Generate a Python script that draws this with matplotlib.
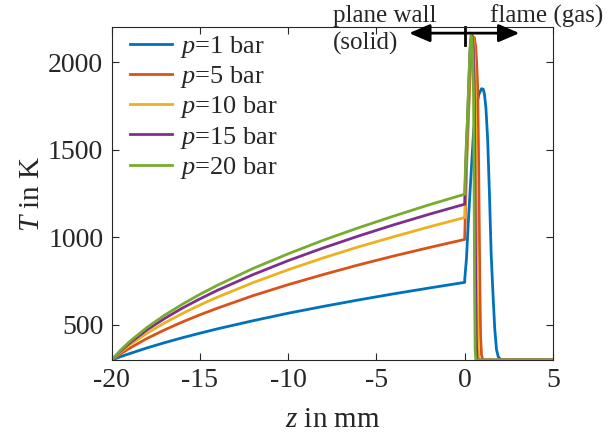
import numpy as np
import matplotlib.pyplot as plt

plt.rcParams['font.family'] = 'Liberation Serif'
plt.rcParams['mathtext.fontset'] = 'custom'
plt.rcParams['mathtext.rm'] = 'Liberation Serif'
plt.rcParams['mathtext.it'] = 'Liberation Serif:italic'
plt.rcParams['axes.unicode_minus'] = False

# =========================
# Data
# =========================
pressures = [1, 5, 10, 15, 20]
colors = ['#0072BD', '#D95319', '#EDB120', '#7E2F8E', '#77AC30']

# wall (solid) side, z in mm
z_wall = [-20, -19.5, -19, -18, -17, -16, -15, -14, -12, -10, -8, -6, -4, -2, 0]
T_wall_p1 = [300, 319, 336, 369, 399, 427, 453, 478, 524, 567, 606, 643, 678, 711, 743]
T_wall_p5 = [300, 335, 366, 423, 472, 517, 558, 596, 667, 730, 788, 843, 894, 942, 988]
T_wall_p10 = [300, 345, 384, 453, 512, 565, 614, 659, 741, 815, 883, 946, 1004, 1060, 1113]
T_wall_p15 = [300, 351, 395, 472, 537, 596, 649, 698, 787, 867, 940, 1008, 1072, 1132, 1189]
T_wall_p20 = [300, 356, 404, 486, 556, 618, 675, 727, 822, 906, 984, 1055, 1122, 1186, 1246]

# flame (gas) side
z_gas_p1 = [0, 0.1, 0.2, 0.35, 0.5, 0.65, 0.8, 0.95, 1.05, 1.12, 1.2, 1.3, 1.4, 1.5, 1.6, 1.7, 1.8, 1.9, 2.05, 2.2, 5]
T_gas_p1 = [760, 880, 1080, 1345, 1600, 1740, 1815, 1848, 1845, 1815, 1740, 1560, 1250, 900, 680, 480, 360, 318, 302, 300, 300]
z_gas_p5 = [0, 0.05, 0.1, 0.15, 0.2, 0.25, 0.3, 0.36, 0.45, 0.54, 0.62, 0.68, 0.73, 0.78, 0.82, 0.86, 0.9, 0.95, 1.02, 5]
T_gas_p5 = [1000, 1200, 1380, 1530, 1660, 1790, 1920, 2040, 2120, 2140, 2090, 1990, 1860, 1500, 1100, 700, 430, 330, 300, 300]
z_gas_p10 = [0, 0.05, 0.1, 0.15, 0.2, 0.25, 0.3, 0.37, 0.45, 0.52, 0.58, 0.63, 0.67, 0.71, 0.75, 0.8, 5]
T_gas_p10 = [1125, 1320, 1480, 1610, 1750, 1890, 2020, 2120, 2150, 2100, 1920, 1600, 1200, 750, 420, 300, 300]
z_gas_p15 = [0, 0.05, 0.1, 0.15, 0.2, 0.25, 0.3, 0.35, 0.42, 0.48, 0.54, 0.58, 0.62, 0.66, 0.7, 5]
T_gas_p15 = [1200, 1380, 1530, 1650, 1790, 1930, 2060, 2130, 2150, 2090, 1850, 1350, 750, 400, 300, 300]
z_gas_p20 = [0, 0.05, 0.1, 0.15, 0.2, 0.25, 0.3, 0.35, 0.4, 0.45, 0.5, 0.53, 0.56, 0.59, 0.63, 5]
T_gas_p20 = [1260, 1420, 1560, 1660, 1800, 1940, 2080, 2150, 2140, 2050, 1820, 1300, 700, 360, 300, 300]

T_walls = [T_wall_p1, T_wall_p5, T_wall_p10, T_wall_p15, T_wall_p20]
z_gases = [z_gas_p1, z_gas_p5, z_gas_p10, z_gas_p15, z_gas_p20]
T_gases = [T_gas_p1, T_gas_p5, T_gas_p10, T_gas_p15, T_gas_p20]

x_ticks = [-20, -15, -10, -5, 0, 5]
y_ticks = [500, 1000, 1500, 2000]

# =========================
# Plot
# =========================
fig = plt.figure(figsize=(6.08, 4.42), dpi=100)
ax = fig.add_axes([0.1837, 0.1855, 0.7258, 0.7534])

for p, c, Tw, zg, Tg in zip(pressures, colors, T_walls, z_gases, T_gases):
    z = list(z_wall) + list(zg)
    T = list(Tw) + list(Tg)
    ax.plot(z, T, color=c, lw=2.0, label='$p$=%d bar' % p)

ax.set_xlim(-20, 5)
ax.set_ylim(300, 2200)
ax.set_xticks(x_ticks)
ax.set_yticks(y_ticks)

axc = '#262626'
for s in ax.spines.values():
    s.set_color(axc)
    s.set_linewidth(0.8)
ax.tick_params(direction='in', length=5, width=0.8, color=axc,
               top=True, right=True, labelsize=20, pad=6, labelcolor=axc)

ax.set_xlabel('$z$ in mm', fontsize=21, color=axc, labelpad=10)
ax.set_ylabel('$T$ in K', fontsize=21, color=axc, labelpad=2)

leg = ax.legend(loc='upper left', bbox_to_anchor=(0.03, 0.995), frameon=False,
                prop={'family': 'Liberation Serif', 'size': 19},
                handlelength=1.6, handletextpad=0.3,
                labelspacing=0.16, borderaxespad=0.0, borderpad=0.2)
for t in leg.get_texts():
    t.set_color(axc)

# wall / flame marker
ax.annotate('', xy=(-3.15, 2165), xytext=(3.1, 2165),
            arrowprops=dict(arrowstyle='<|-|>,head_length=0.7,head_width=0.3',
                            color='black', lw=2, mutation_scale=18,
                            shrinkA=0, shrinkB=0),
            annotation_clip=False)
ax.plot([0, 0], [2100, 2200], color='black', lw=2, clip_on=False)
ax.text(-7.45, 2262, 'plane wall', fontsize=18, ha='left', va='center', color=axc)
ax.text(-7.45, 2105, '(solid)', fontsize=18, ha='left', va='center', color=axc)
ax.text(1.45, 2262, 'flame (gas)', fontsize=18, ha='left', va='center', color=axc)

fig.savefig('out.png', dpi=100)
